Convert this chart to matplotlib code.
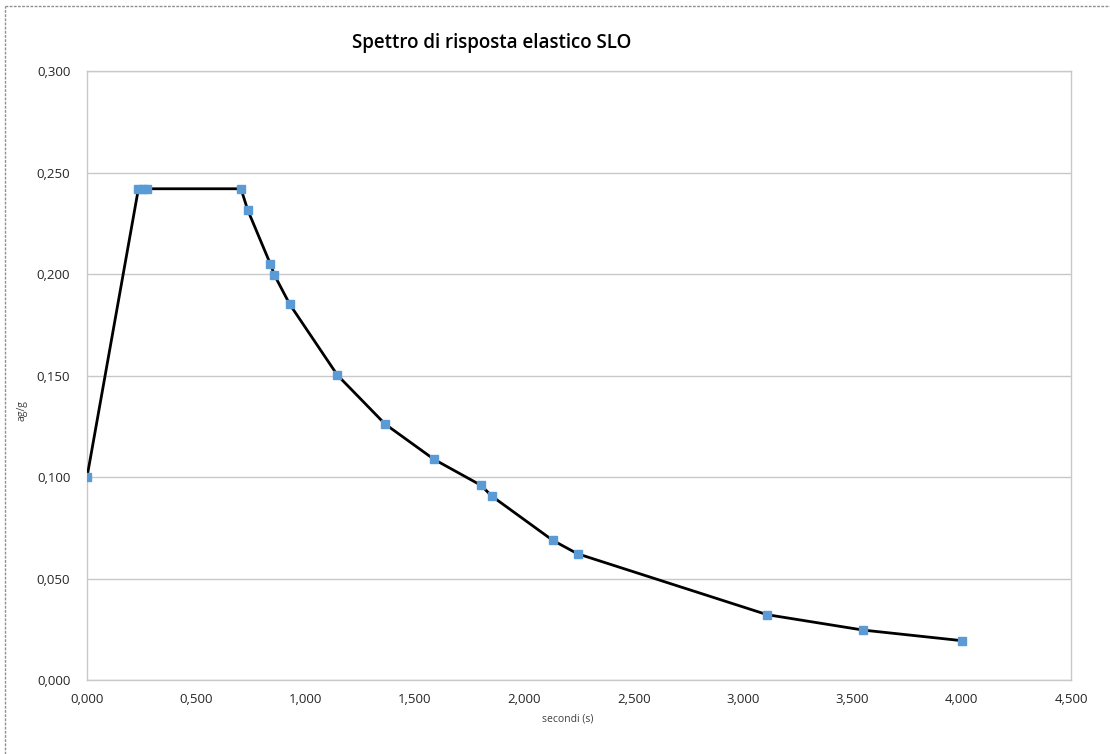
#!/usr/bin/env python3
# -*- coding: utf-8 -*-

import matplotlib
matplotlib.use('Agg')
import matplotlib.pyplot as plt
from matplotlib.lines import Line2D
from matplotlib.ticker import FuncFormatter, MultipleLocator

# periodo (s) e accelerazione spettrale (ag/g)
periodi = [0.0, 0.235, 0.255, 0.275, 0.704, 0.735, 0.839, 0.857, 0.927,
           1.145, 1.363, 1.587, 1.802, 1.851, 2.130, 2.243, 3.110, 3.550, 4.000]
se = [0.100, 0.242, 0.242, 0.242, 0.242, 0.2315, 0.2048, 0.1995, 0.1851,
      0.1502, 0.1261, 0.1087, 0.0959, 0.0906, 0.0688, 0.0622, 0.0322, 0.0246, 0.0194]

titolo = "Spettro di risposta elastico SLO"

plt.rcParams['font.family'] = ['Open Sans', 'DejaVu Sans']


def virgola(v, pos):
    return ("%.3f" % v).replace('.', ',')


def plotSpettro():
    fig = plt.figure(figsize=(11.10, 7.54), dpi=100)
    ax = fig.add_axes([0.0784, 0.0981, 0.8865, 0.8077])

    ax.plot(periodi, se, color='black', lw=2.0, zorder=3)
    ax.plot(periodi, se, ls='none', marker='s', ms=5.5, color='#5B9BD5',
            mec='#5B9BD5', zorder=4)

    ax.set_xlim(0, 4.5)
    ax.set_ylim(0, 0.3)
    ax.xaxis.set_major_locator(MultipleLocator(0.5))
    ax.yaxis.set_major_locator(MultipleLocator(0.05))
    ax.xaxis.set_major_formatter(FuncFormatter(virgola))
    ax.yaxis.set_major_formatter(FuncFormatter(virgola))
    ax.tick_params(length=0, labelsize=9.5, colors='#262626', pad=9)
    ax.tick_params(axis='y', pad=12)

    ax.grid(axis='y', color='#c8c8c8', lw=1.0)
    ax.set_axisbelow(True)
    for s in ax.spines.values():
        s.set_color('#c8c8c8')
        s.set_linewidth(1.0)

    fig.text(0.443, 0.943, titolo, ha='center', va='center', fontsize=13.5,
             fontweight='semibold', color='black')
    fig.text(0.511, 0.047, "secondi (s)", ha='center', va='center',
             fontsize=7.5, color='#404040')
    fig.text(0.020, 0.456, "ag/g", ha='center', va='center', rotation=90,
             fontsize=7.5, color='#404040')

    # bordo tratteggiato dell'area del grafico
    fig.add_artist(Line2D([0.0045, 1.0], [0.992, 0.992], transform=fig.transFigure,
                          color='#909090', lw=1.0, ls=(0, (2, 1))))
    fig.add_artist(Line2D([0.0045, 0.0045], [0.0, 0.992], transform=fig.transFigure,
                          color='#909090', lw=1.0, ls=(0, (2, 1))))

    fig.savefig('out.png', dpi=100)


if __name__ == '__main__':
    plotSpettro()
